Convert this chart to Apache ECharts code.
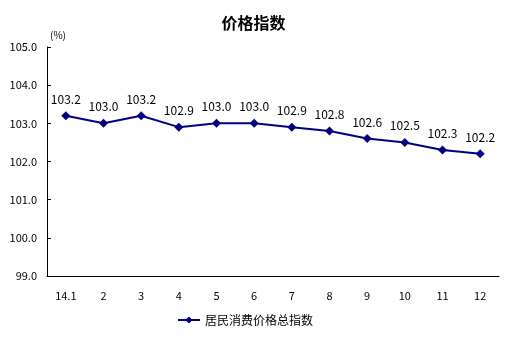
<!DOCTYPE html>
<html>
<head>
<meta charset="utf-8">
<script src="https://cdn.jsdelivr.net/npm/echarts@6/dist/echarts.min.js"></script>
<style>
html,body{margin:0;padding:0;background:#fff;}
#chart{width:507px;height:337px;}
</style>
</head>
<body>
<div id="chart"></div>
<script>
// Monthly CPI, previous year = 100
const months = ['14.1', '2', '3', '4', '5', '6', '7', '8', '9', '10', '11', '12'];
const cpiValues = [103.2, 103.0, 103.2, 102.9, 103.0, 103.0, 102.9, 102.8, 102.6, 102.5, 102.3, 102.2];
const seriesName = '居民消费价格总指数';

const FONT = '"Noto Sans CJK SC", "DejaVu Sans", sans-serif';
const NAVY = '#000080';

const chart = echarts.init(document.getElementById('chart'), null, { renderer: 'canvas' });
chart.setOption({
  animation: false,
  backgroundColor: '#fff',
  title: {
    text: '价格指数',
    left: 'center',
    top: 10,
    textStyle: { fontFamily: FONT, fontSize: 16, fontWeight: 'bold', color: '#000' }
  },
  graphic: [{
    type: 'text',
    left: 50,
    top: 30,
    style: { text: '(%)', font: '10px ' + FONT, fill: '#000' }
  }],
  grid: { left: 47, right: 8, top: 47, bottom: 61, containLabel: false },
  legend: {
    bottom: 6,
    left: 172,
    itemWidth: 22,
    itemHeight: 9,
    itemGap: 6,
    data: [seriesName],
    textStyle: { fontFamily: FONT, fontSize: 12, color: '#000' }
  },
  xAxis: {
    type: 'category',
    data: months,
    boundaryGap: true,
    axisLine: { lineStyle: { color: '#000', width: 1 } },
    axisTick: { inside: true, length: 4, lineStyle: { color: '#000' } },
    axisLabel: { margin: 14, fontFamily: FONT, fontSize: 11, color: '#000' },
    splitLine: { show: false }
  },
  yAxis: {
    type: 'value',
    min: 99,
    max: 105,
    interval: 1,
    axisLine: { show: true, lineStyle: { color: '#000', width: 1 } },
    axisTick: { show: true, inside: true, length: 4, lineStyle: { color: '#000' } },
    axisLabel: { margin: 10, fontFamily: FONT, fontSize: 11, color: '#000',
      formatter: v => v.toFixed(1) },
    splitLine: { show: false }
  },
  series: [{
    name: seriesName,
    type: 'line',
    data: cpiValues,
    symbol: 'diamond',
    symbolSize: 9,
    lineStyle: { color: NAVY, width: 2 },
    itemStyle: { color: NAVY },
    label: {
      show: true,
      position: 'top',
      distance: 6,
      fontFamily: FONT,
      fontSize: 12,
      color: '#000',
      formatter: p => p.value.toFixed(1)
    }
  }]
});
</script>
</body>
</html>
